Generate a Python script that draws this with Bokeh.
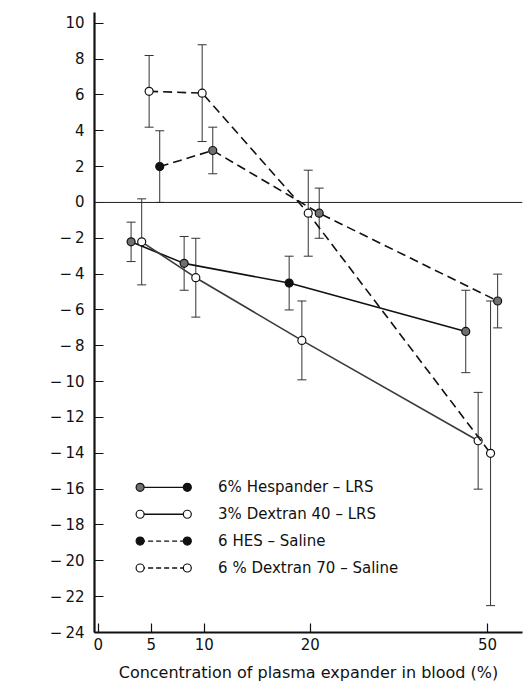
import math
from bokeh.plotting import figure
from bokeh.models import ColumnDataSource, Whisker, TeeHead, FixedTicker, Label, Span
from bokeh.core.properties import value
from bokeh.embed import file_html
from bokeh.resources import INLINE

# ---------------- data ----------------
hesp_lrs_x = [3.1, 8.1, 18.0, 46.3]
hesp_lrs_y = [-2.2, -3.4, -4.5, -7.2]
hesp_lrs_err = [1.1, 1.5, 1.5, 2.3]
hesp_lrs_fill = ["#707070", "#707070", "#111111", "#707070"]

dex40_x = [4.1, 9.2, 19.2, 48.4]
dex40_y = [-2.2, -4.2, -7.7, -13.3]
dex40_err = [2.4, 2.2, 2.2, 2.7]

hes_sal_x = [5.8, 10.8, 21.5, 51.7]
hes_sal_y = [2.0, 2.9, -0.6, -5.5]
hes_sal_err = [2.0, 1.3, 1.4, 1.5]
hes_sal_fill = ["#111111", "#707070", "#707070", "#707070"]

dex70_x = [4.8, 9.8, 19.8, 50.5]
dex70_y = [6.2, 6.1, -0.6, -14.0]
dex70_err = [2.0, 2.7, 2.4, 8.5]

x_tick_values = [0, 5, 10, 20, 50]
y_tick_values = list(range(-24, 11, 2))

legend_labels = ["6% Hespander – LRS", "3% Dextran 40 – LRS",
                 "6 HES – Saline", "6 % Dextran 70 – Saline"]

# broken x scale: linear to 20, compressed above 20
BREAK = 20.0
COMPRESS = 0.557


def brk(v):
    return v if v <= BREAK else BREAK + (v - BREAK) * COMPRESS


FONT = "DejaVu Sans"

p = figure(width=531, height=687, output_backend="svg", toolbar_location=None,
           x_range=(-0.35, 40.0), y_range=(-24, 10.6),
           min_border_left=94, min_border_right=9, min_border_top=12,
           min_border_bottom=55)
p.outline_line_color = None
p.grid.visible = False
p.background_fill_color = "white"
p.border_fill_color = "white"

# zero line
p.add_layout(Span(location=0, dimension="width", line_color="#222222", line_width=1))


def series(xs, ys, errs, fills, dash, line_color):
    u = [brk(v) for v in xs]
    src = ColumnDataSource(dict(u=u, y=ys,
                                upper=[a + b for a, b in zip(ys, errs)],
                                lower=[a - b for a, b in zip(ys, errs)],
                                fill=fills))
    w = Whisker(base="u", upper="upper", lower="lower", source=src,
                dimension="height", line_color="#333333", line_width=1,
                upper_head=TeeHead(size=9, line_color="#333333", line_width=1),
                lower_head=TeeHead(size=9, line_color="#333333", line_width=1))
    p.add_layout(w)
    p.line("u", "y", source=src, line_color=line_color, line_width=1.6, line_dash=dash)
    p.scatter("u", "y", source=src, size=8, fill_color="fill",
              line_color="#111111", line_width=1.2)


series(hesp_lrs_x, hesp_lrs_y, hesp_lrs_err, hesp_lrs_fill, "solid", "#111111")
series(dex40_x, dex40_y, dex40_err, ["white"] * 4, "solid", "#3a3a3a")
series(hes_sal_x, hes_sal_y, hes_sal_err, hes_sal_fill, "9 5", "#111111")
series(dex70_x, dex70_y, dex70_err, ["white"] * 4, "9 5", "#111111")

# ---------------- legend (drawn by hand: markers at both ends) ----------------
leg_y = [-15.9, -17.4, -18.9, -20.4]
leg_x0, leg_x1, leg_tx = 3.95, 8.4, 11.3
leg_left_fill = ["#707070", "white", "#111111", "white"]
leg_right_fill = ["#111111", "white", "#111111", "white"]
leg_dash = ["solid", "solid", "5 3", "5 3"]
for i in range(4):
    p.line([leg_x0, leg_x1], [leg_y[i], leg_y[i]], line_color="#111111",
           line_width=1.4, line_dash=leg_dash[i])
    p.scatter([leg_x0, leg_x1], [leg_y[i], leg_y[i]], size=8,
              fill_color=[leg_left_fill[i], leg_right_fill[i]],
              line_color="#111111", line_width=1.2)
p.text(x=[leg_tx] * 4, y=leg_y, text=legend_labels, text_font=value(FONT),
       text_font_size="15px", text_baseline="middle", text_color="#111111")

# ---------------- axes ----------------
p.xaxis.ticker = FixedTicker(ticks=[brk(v) for v in x_tick_values])
p.xaxis.major_label_overrides = {brk(v): str(v) for v in x_tick_values}
p.yaxis.ticker = FixedTicker(ticks=y_tick_values)
p.yaxis.major_label_overrides = {v: (str(v) if v >= 0 else "−\u2009" + str(-v))
                                 for v in y_tick_values}
for ax in (p.xaxis, p.yaxis):
    ax.axis_line_width = 2.2
    ax.axis_line_color = "#111111"
    ax.major_tick_in = 9
    ax.major_tick_out = 0
    ax.major_tick_line_width = 1.2
    ax.major_tick_line_color = "#111111"
    ax.minor_tick_line_color = None
    ax.major_label_text_font = FONT
    ax.major_label_text_font_size = "15px"
    ax.major_label_text_color = "#111111"

p.yaxis.major_label_standoff = 10
p.xaxis.major_label_standoff = 5
p.xaxis.axis_label = "Concentration of plasma expander in blood (%)"
p.xaxis.axis_label_text_font = FONT
p.xaxis.axis_label_text_font_style = "normal"
p.xaxis.axis_label_text_font_size = "16px"
p.xaxis.axis_label_standoff = 10
p.xaxis.axis_label_text_color = "#111111"

p.add_layout(Label(x=-7.1, y=-10.5, text="⊿ma (mm)", angle=math.pi / 2,
                   text_align="center", text_baseline="middle",
                   text_font=FONT, text_font_size="15px", text_color="#111111"))

open("out.html", "w").write(file_html(p, INLINE))
